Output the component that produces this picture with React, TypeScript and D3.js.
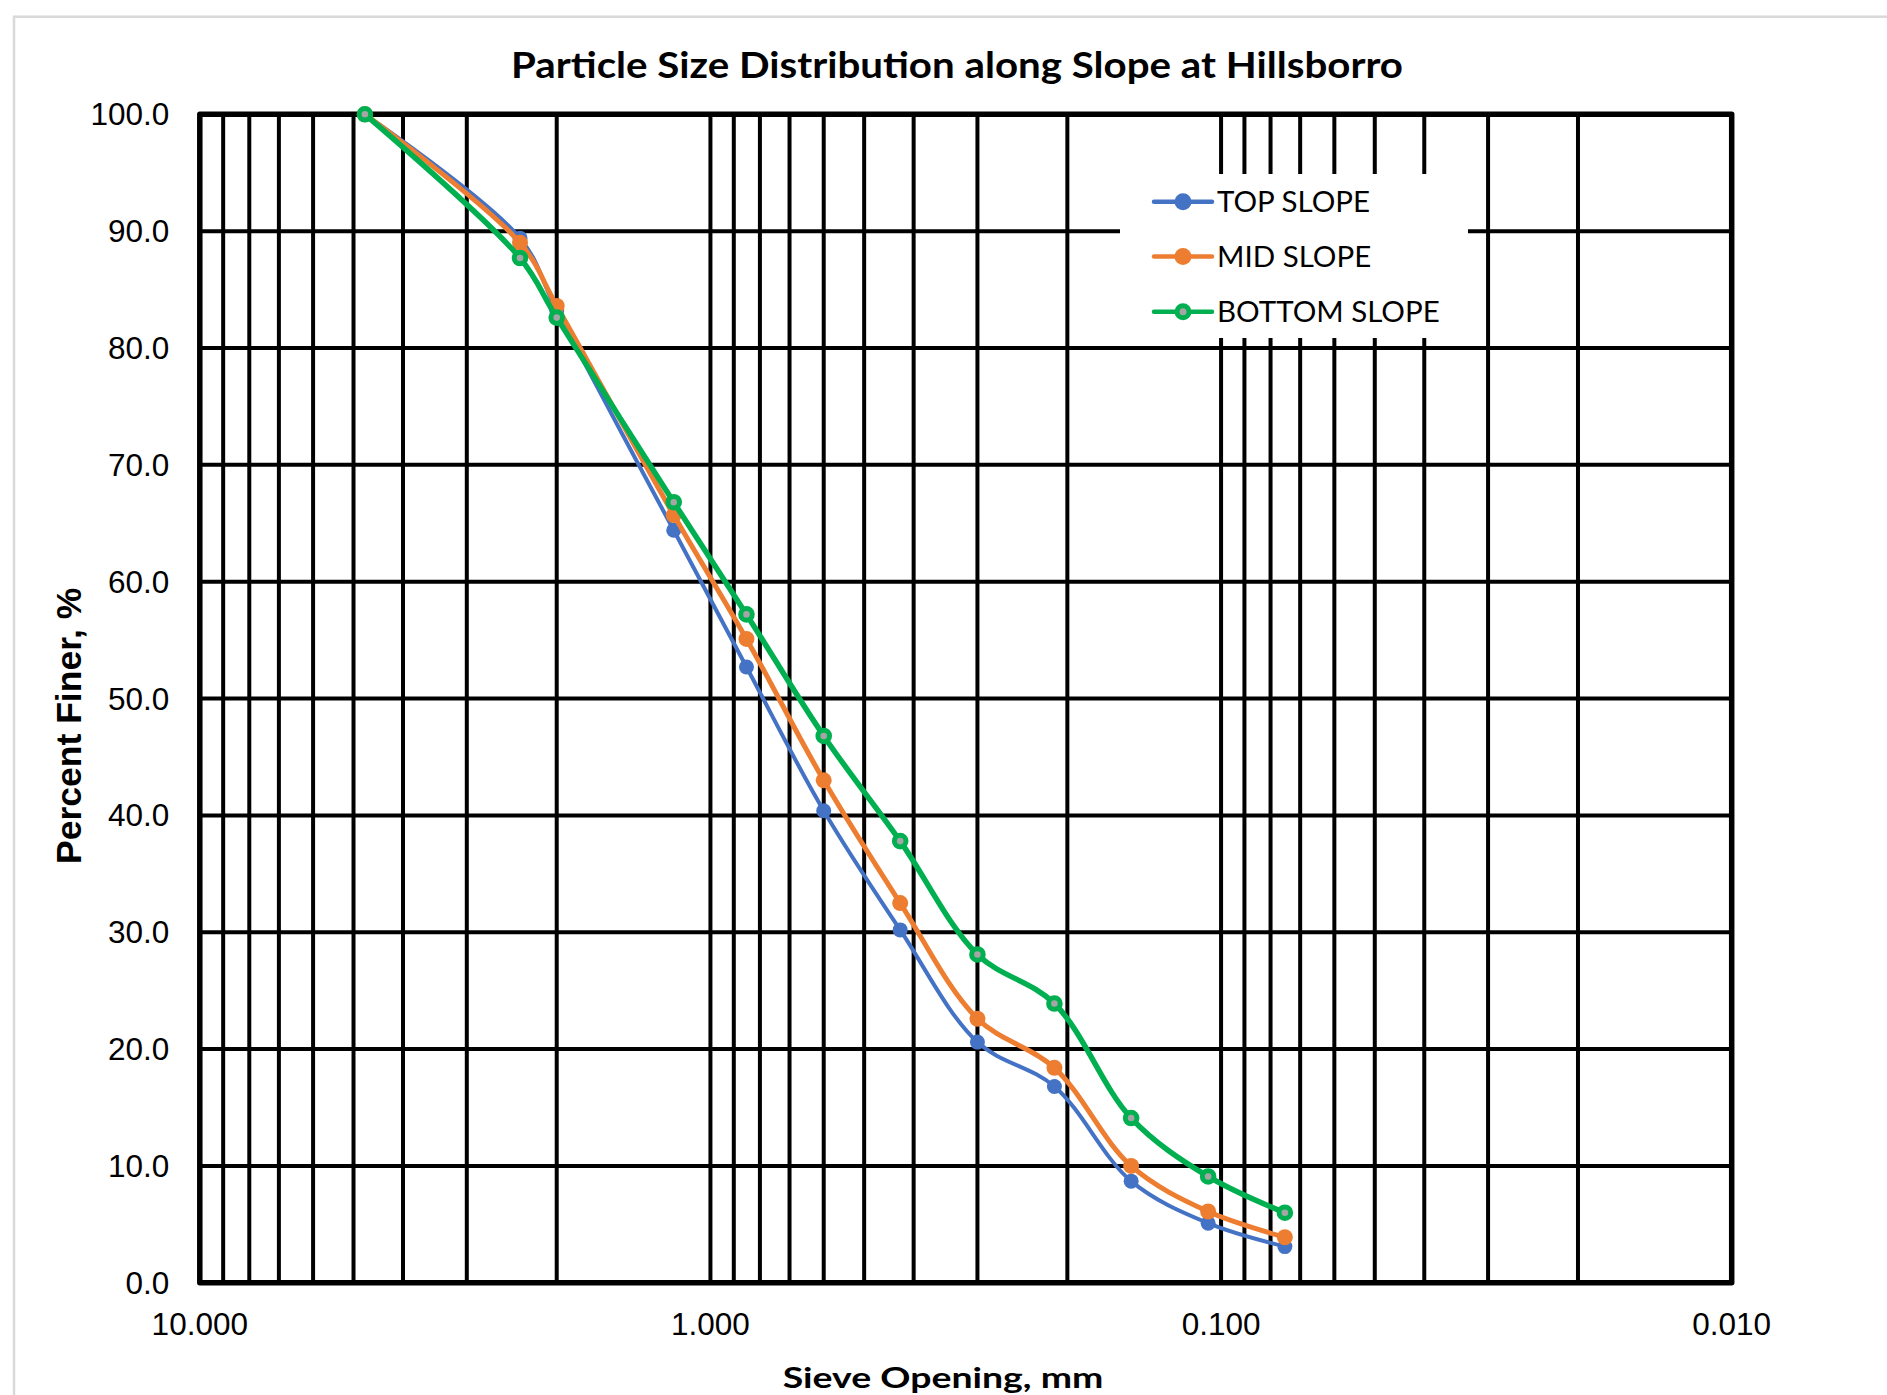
import React from "react";
import * as d3 from "d3";

const sieveOpenings = [4.75, 2.36, 2.0, 1.18, 0.85, 0.6, 0.425, 0.3, 0.212, 0.15, 0.106, 0.075];
const topSlope = [100, 89.4, 83.2, 64.4, 52.7, 40.4, 30.2, 20.6, 16.8, 8.7, 5.1, 3.1];
const midSlope = [100, 89.0, 83.6, 65.7, 55.1, 43.0, 32.5, 22.6, 18.4, 10.0, 6.1, 3.9];
const bottomSlope = [100, 87.7, 82.6, 66.8, 57.2, 46.8, 37.8, 28.1, 23.9, 14.1, 9.1, 6.0];
const seriesNames = ["TOP SLOPE", "MID SLOPE", "BOTTOM SLOPE"];
const xMajorTicks = [10, 1, 0.1, 0.01];
const yTicks = [0, 10, 20, 30, 40, 50, 60, 70, 80, 90, 100];

const W = 1887;
const H = 1395;
const plot = { left: 199.8, right: 1731.7, top: 114.3, bottom: 1282.8 };

const styles = [
  { color: "#4472C4", width: 4, r: 7.5, fill: "#4472C4", sw: 0 },
  { color: "#ED7D31", width: 5, r: 8, fill: "#ED7D31", sw: 0 },
  { color: "#00B050", width: 5.5, r: 5.8, fill: "#A5A5A5", sw: 5 },
];

export default function App() {
  const x = d3.scaleLog().domain([10, 0.01]).range([plot.left, plot.right]);
  const y = d3.scaleLinear().domain([0, 100]).range([plot.bottom, plot.top]);
  const allSeries = [topSlope, midSlope, bottomSlope];
  const line = d3
    .line<[number, number]>()
    .x((d) => x(d[0]))
    .y((d) => y(d[1]))
    .curve(d3.curveCatmullRom.alpha(0.5));
  const gridX = x.ticks();
  const fmtX = d3.format(".3f");
  const fmtY = d3.format(".1f");

  const legend = { x: 1120, y: 174, w: 348, h: 164, lx1: 1154, lx2: 1212, mx: 1183, tx: 1217, rows: [201.7, 256.5, 311.7] };

  return (
    <svg width={W} height={H} style={{ position: "absolute", left: 0, top: 0, background: "#fff" }}>
      <rect x={0} y={0} width={W} height={H} fill="#fff" />
      <rect x={14} y={16.7} width={W + 50} height={H + 50} fill="none" stroke="#d9d9d9" strokeWidth={2.5} />
      <text
        x={957}
        y={78.3}
        textAnchor="middle"
        fontFamily="Lato"
        fontWeight="bold"
        fontSize={37}
        textLength={892}
        lengthAdjust="spacingAndGlyphs"
        fill="#000"
      >
        Particle Size Distribution along Slope at Hillsborro
      </text>
      <g stroke="#000" strokeWidth={4}>
        {yTicks.map((t) => (
          <line key={"h" + t} x1={plot.left} x2={plot.right} y1={y(t)} y2={y(t)} />
        ))}
        {gridX.map((t, i) => (
          <line key={"v" + i} x1={x(t)} x2={x(t)} y1={plot.top} y2={plot.bottom} />
        ))}
      </g>
      <rect
        x={plot.left}
        y={plot.top}
        width={plot.right - plot.left}
        height={plot.bottom - plot.top}
        fill="none"
        stroke="#000"
        strokeWidth={5.5}
        strokeLinejoin="round"
      />
      {yTicks.map((t) => (
        <text
          key={"yl" + t}
          x={169.3}
          y={y(t) + 11}
          textAnchor="end"
          fontFamily="Liberation Sans"
          fontSize={31.5}
          fill="#000"
        >
          {fmtY(t)}
        </text>
      ))}
      {xMajorTicks.map((t) => (
        <text
          key={"xl" + t}
          x={x(t)}
          y={1335}
          textAnchor="middle"
          fontFamily="Liberation Sans"
          fontSize={31.5}
          fill="#000"
        >
          {fmtX(t)}
        </text>
      ))}
      <text
        transform={`translate(80.7,725.8) rotate(-90)`}
        textAnchor="middle"
        fontFamily="Liberation Sans"
        fontWeight="bold"
        fontSize={35.5}
        fill="#000"
      >
        Percent Finer, %
      </text>
      <text
        x={782.7}
        y={1388}
        fontFamily="Lato"
        fontWeight="bold"
        fontSize={29.3}
        textLength={320.6}
        lengthAdjust="spacingAndGlyphs"
        fill="#000"
      >
        Sieve Opening, mm
      </text>
      {allSeries.map((vals, si) => {
        const pts = sieveOpenings.map((s, i) => [s, vals[i]] as [number, number]);
        const st = styles[si];
        return (
          <g key={"s" + si}>
            <path d={line(pts) || ""} fill="none" stroke={st.color} strokeWidth={st.width} strokeLinejoin="round" strokeLinecap="round" />
            {pts.map((p, i) => (
              <circle
                key={i}
                cx={x(p[0])}
                cy={y(p[1])}
                r={st.r}
                fill={st.fill}
                stroke={st.sw ? st.color : "none"}
                strokeWidth={st.sw}
              />
            ))}
          </g>
        );
      })}
      <rect x={legend.x} y={legend.y} width={legend.w} height={legend.h} fill="#fff" />
      {seriesNames.map((name, i) => {
        const st = styles[i];
        const cy = legend.rows[i];
        return (
          <g key={"lg" + i}>
            <line x1={legend.lx1} x2={legend.lx2} y1={cy} y2={cy} stroke={st.color} strokeWidth={4.5} strokeLinecap="round" />
            <circle cx={legend.mx} cy={cy} r={st.sw ? 6 : 8.5} fill={st.fill} stroke={st.sw ? st.color : "none"} strokeWidth={st.sw} />
            <text x={legend.tx} y={cy + 10.5} fontFamily="Lato" fontSize={29.5} fill="#000">
              {name}
            </text>
          </g>
        );
      })}
    </svg>
  );
}
